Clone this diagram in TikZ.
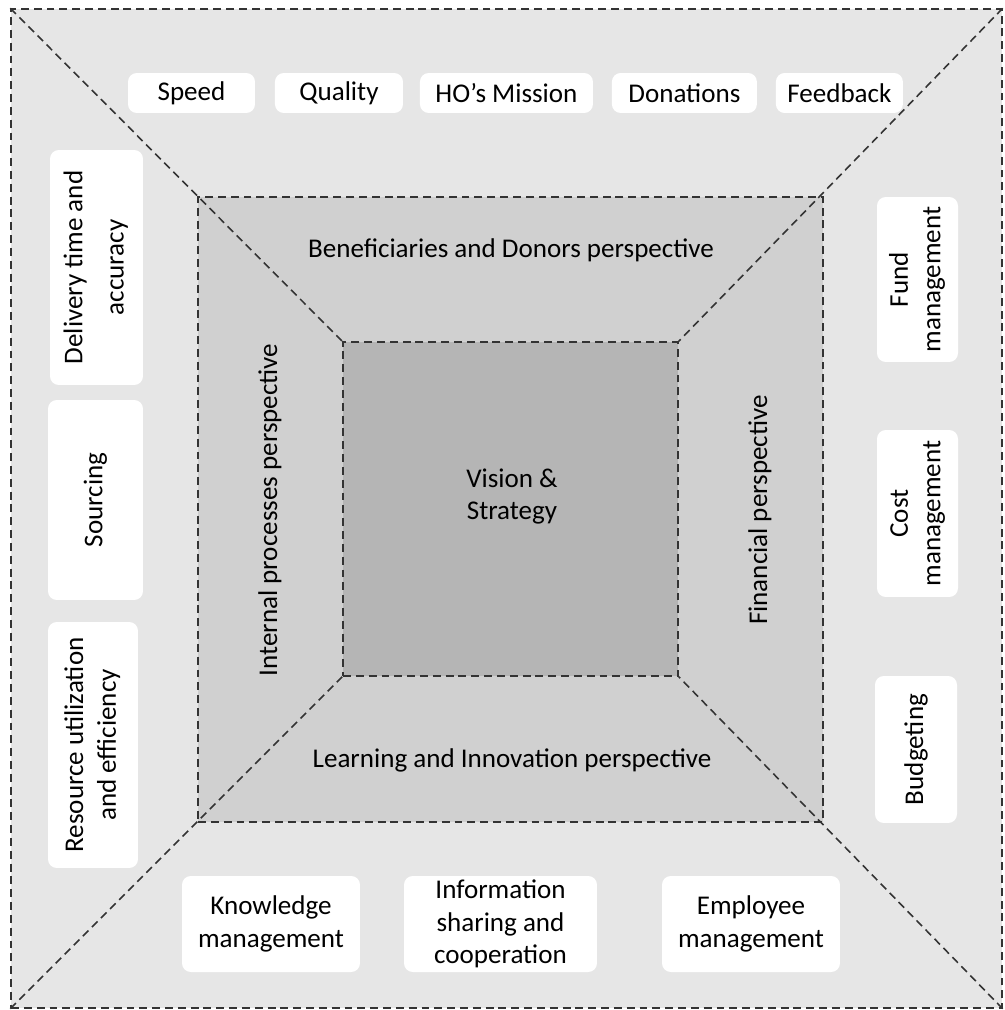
\documentclass[tikz,border=0pt]{standalone}
\usepackage{fontspec}
\setmainfont{Carlito}
\usetikzlibrary{positioning}

\definecolor{outergray}{HTML}{E6E6E6}
\definecolor{midgray}{HTML}{D0D0D0}
\definecolor{innergray}{HTML}{B5B5B5}
\definecolor{linegray}{HTML}{333333}

\tikzset{
	dashline/.style={draw=linegray, line width=0.9pt, dash pattern=on 4.5pt off 2.8pt},
	region/.style={rectangle, dashline, inner sep=0pt},
	tag/.style={rectangle, fill=white, rounded corners=5pt, inner sep=0pt, align=center},
}

\begin{document}
\begin{tikzpicture}[x=0.02cm, y=-0.02cm, font=\fontsize{15.4}{18.5}\selectfont]
		\useasboundingbox (0,0) rectangle (1004,1010);
		
		\node[region, fill=outergray, minimum width=19.82cm, minimum height=19.98cm] (OUT) at (506.5,508.5) {};
		\node[region, fill=midgray, minimum width=12.5cm, minimum height=12.5cm] (MID) at (510.5,509.5) {};
		\node[region, fill=innergray, minimum width=6.7cm, minimum height=6.68cm] (IN) at (510.5,509) {};
		
		\draw[dashline] (OUT.north west) -- (IN.north west);
		\draw[dashline] (OUT.north east) -- (IN.north east);
		\draw[dashline] (OUT.south east) -- (IN.south east);
		\draw[dashline] (OUT.south west) -- (IN.south west);
		
		\node(VIS) at (512,497){\begin{tabular}{@{}c@{}}Vision \&\\Strategy\end{tabular}};
		\node(BEN) at (511,250){Beneficiaries and Donors perspective};
		\node(LRN) at (512,760){Learning and Innovation perspective};
		\node(INT) at (270,510){\rotatebox{90}{Internal processes perspective}};
		\node(FIN) at (760,510){\rotatebox{90}{Financial perspective}};
		
		\node[tag, minimum width=2.54cm, minimum height=0.8cm](T1) at (191.5,93){Speed};
		\node[tag, right of=T1, node distance=2.95cm, minimum width=2.56cm, minimum height=0.8cm](T2){Quality};
		\node[tag, right of=T2, node distance=3.35cm, minimum width=3.46cm, minimum height=0.8cm](T3){HO’s Mission};
		\node[tag, right of=T3, node distance=3.56cm, minimum width=2.9cm, minimum height=0.8cm](T4){Donations};
		\node[tag, right of=T4, node distance=3.1cm, minimum width=2.54cm, minimum height=0.8cm](T5){Feedback};
		
		\node[tag, minimum width=1.86cm, minimum height=4.7cm](L1) at (96.5,267.5){\rotatebox{90}{\begin{tabular}{@{}c@{}}Delivery time and\\[5pt]accuracy\end{tabular}}};
		\node[tag, minimum width=1.9cm, minimum height=4cm](L2) at (95.5,500){\rotatebox{90}{Sourcing}};
		\node[tag, minimum width=1.8cm, minimum height=4.92cm](L3) at (93,745){\rotatebox{90}{\begin{tabular}{@{}c@{}}Resource utilization\\and efficiency\end{tabular}}};
		
		\node[tag, minimum width=1.62cm, minimum height=3.3cm](R1) at (917.5,279.5){\rotatebox{90}{\begin{tabular}{@{}c@{}}Fund\\management\end{tabular}}};
		\node[tag, minimum width=1.62cm, minimum height=3.34cm](R2) at (917.5,513.5){\rotatebox{90}{\begin{tabular}{@{}c@{}}Cost\\management\end{tabular}}};
		\node[tag, minimum width=1.64cm, minimum height=2.94cm](R3) at (916,749.5){\rotatebox{90}{Budgeting}};
		
		\node[tag, minimum width=3.56cm, minimum height=1.92cm](B1) at (271,924){Knowledge\\management};
		\node[tag, minimum width=3.86cm, minimum height=1.92cm](B2) at (500.5,924){Information\\sharing and\\cooperation};
		\node[tag, minimum width=3.56cm, minimum height=1.92cm](B3) at (751,924){Employee\\management};
\end{tikzpicture}
\end{document}
